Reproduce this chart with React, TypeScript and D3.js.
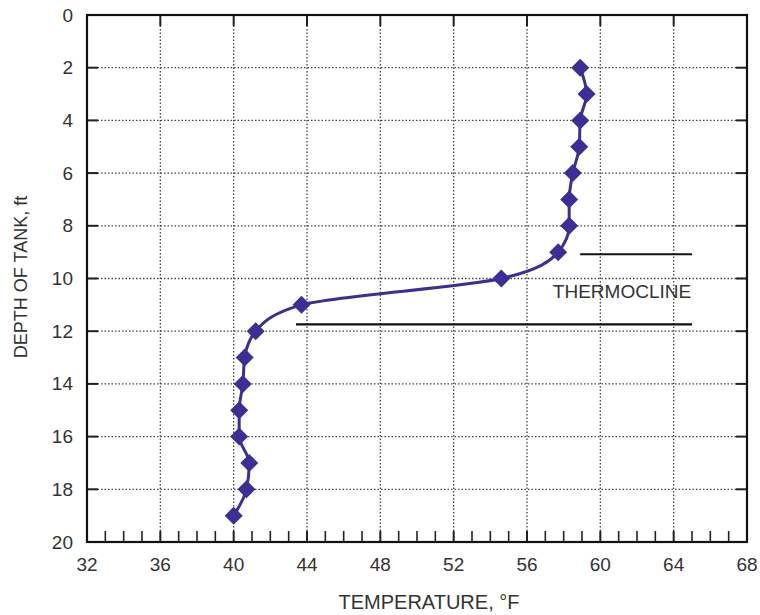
import React from "react";
import * as d3 from "d3";

const depths = [2, 3, 4, 5, 6, 7, 8, 9, 10, 11, 12, 13, 14, 15, 16, 17, 18, 19];
const temps = [58.9, 59.25, 58.9, 58.85, 58.5, 58.3, 58.3, 57.7, 54.6, 43.7, 41.2, 40.6, 40.5, 40.3, 40.3, 40.85, 40.7, 40.0];
const xMajorTicks = [32, 36, 40, 44, 48, 52, 56, 60, 64, 68];
const yMajorTicks = [0, 2, 4, 6, 8, 10, 12, 14, 16, 18, 20];
const thermoTop = { depth: 9.08, from: 58.9, to: 65 };
const thermoBottom = { depth: 11.74, from: 43.4, to: 65 };
const thermoLabel = "THERMOCLINE";
const xTitle = "TEMPERATURE, °F";
const yTitle = "DEPTH OF TANK, ft";

const W = 760, H = 615;
const L = 87, R = 747, T = 15, B = 542;

export default function App() {
  const x = d3.scaleLinear().domain([32, 68]).range([L, R]);
  const y = d3.scaleLinear().domain([0, 20]).range([T, B]);
  const minor = d3.range(32, 69, 1).filter((v) => v % 4 !== 0);
  const pts = depths.map((d, i) => [temps[i], d] as [number, number]);
  const line = d3
    .line<[number, number]>()
    .x((p) => x(p[0]))
    .y((p) => y(p[1]))
    .curve(d3.curveMonotoneY);
  const font = "Liberation Sans, Arial, sans-serif";
  const txt = "#333";
  const col = "#3b2f96";
  const dm = 9;
  return (
    <svg width={W} height={H} style={{ position: "absolute", left: 0, top: 0, background: "#fff" }} fontFamily={font}>
      <rect width={W} height={H} fill="#fff" />
      {/* grid */}
      {xMajorTicks.slice(1, -1).map((v) => (
        <line key={"gx" + v} x1={x(v)} x2={x(v)} y1={T} y2={B} stroke="#444" strokeWidth={1.3} strokeDasharray="1.5,2" />
      ))}
      {yMajorTicks.slice(1, -1).map((v) => (
        <line key={"gy" + v} x1={L} x2={R} y1={y(v)} y2={y(v)} stroke="#444" strokeWidth={1.3} strokeDasharray="1.5,2" />
      ))}
      {/* ticks */}
      {yMajorTicks.slice(1, -1).map((v) => (
        <g key={"ty" + v}>
          <line x1={L} x2={L + 11} y1={y(v)} y2={y(v)} stroke="#222" strokeWidth={2} />
          <line x1={R - 11} x2={R} y1={y(v)} y2={y(v)} stroke="#222" strokeWidth={2} />
        </g>
      ))}
      {xMajorTicks.slice(1, -1).map((v) => (
        <g key={"tx" + v}>
          <line x1={x(v)} x2={x(v)} y1={B} y2={B - 11} stroke="#222" strokeWidth={2} />
          <line x1={x(v)} x2={x(v)} y1={T} y2={T + 11} stroke="#222" strokeWidth={2} />
        </g>
      ))}
      {minor.map((v) => (
        <line key={"mx" + v} x1={x(v)} x2={x(v)} y1={B} y2={B - 11} stroke="#222" strokeWidth={1.6} />
      ))}
      {/* frame */}
      <rect x={L} y={T} width={R - L} height={B - T} fill="none" stroke="#111" strokeWidth={2.2} />
      {/* tick labels */}
      {yMajorTicks.map((v) => (
        <text key={"ly" + v} x={73} y={y(v) + 6.5} textAnchor="end" fontSize={19} fill={txt}>
          {v}
        </text>
      ))}
      {xMajorTicks.map((v) => (
        <text key={"lx" + v} x={x(v)} y={571} textAnchor="middle" fontSize={19} fill={txt}>
          {v}
        </text>
      ))}
      {/* thermocline lines */}
      {[thermoTop, thermoBottom].map((t, i) => (
        <line key={"th" + i} x1={x(t.from)} x2={x(t.to)} y1={y(t.depth)} y2={y(t.depth)} stroke="#111" strokeWidth={2.2} />
      ))}
      <text x={622} y={297.5} textAnchor="middle" fontSize={19} fill={txt}>
        {thermoLabel}
      </text>
      {/* data */}
      <path d={line(pts) || ""} fill="none" stroke={col} strokeWidth={3} />
      {pts.map((p, i) => (
        <path
          key={"m" + i}
          d={`M${x(p[0])},${y(p[1]) - dm}L${x(p[0]) + dm},${y(p[1])}L${x(p[0])},${y(p[1]) + dm}L${x(p[0]) - dm},${y(p[1])}Z`}
          fill={col}
        />
      ))}
      {/* titles */}
      <text x={429} y={609} textAnchor="middle" fontSize={20} fill={txt}>
        {xTitle}
      </text>
      <text transform={`translate(27,277) rotate(-90)`} textAnchor="middle" fontSize={18} fill={txt}>
        {yTitle}
      </text>
    </svg>
  );
}
